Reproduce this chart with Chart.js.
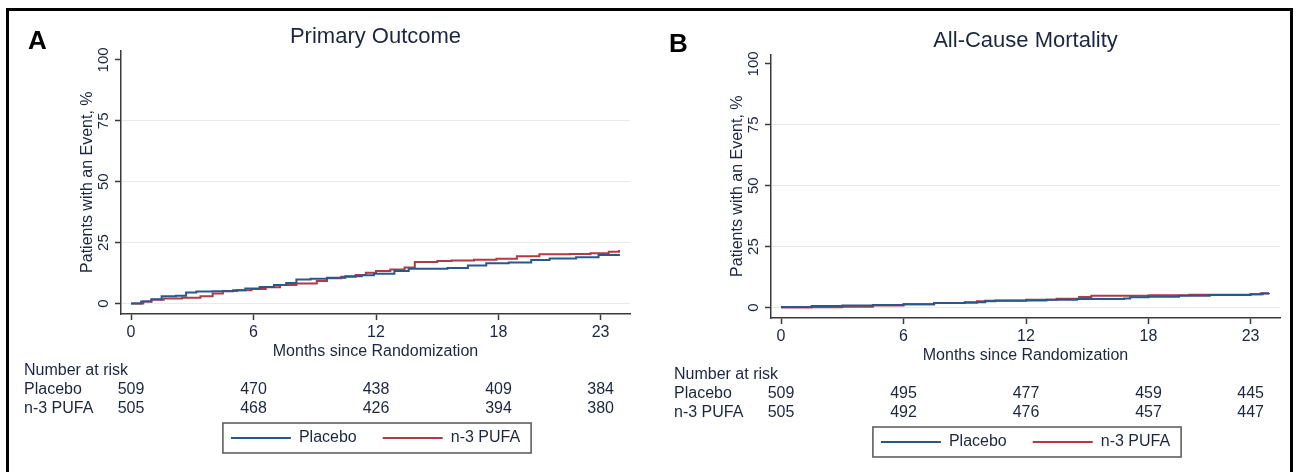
<!DOCTYPE html>
<html>
<head>
<meta charset="utf-8">
<script src="https://cdn.jsdelivr.net/npm/chart.js@4.4.1/dist/chart.umd.min.js"></script>
<style>
body{margin:0;background:#fff;width:1299px;height:472px;overflow:hidden;position:relative;font-family:Arial,"Liberation Sans",sans-serif;}
#frame{position:absolute;left:6px;top:8px;width:1287px;height:520px;border:3px solid #000;box-sizing:border-box;pointer-events:none;}
canvas{position:absolute;}
#chartA{left:0;top:0;}
#chartB{left:650px;top:4px;}
.panel{position:absolute;font-weight:bold;font-size:26px;line-height:26px;color:#000;}
</style>
</head>
<body>
<canvas id="chartA" width="650" height="472"></canvas>
<canvas id="chartB" width="650" height="472"></canvas>
<div class="panel" style="left:28px;top:27px">A</div>
<div class="panel" style="left:669px;top:30px">B</div>
<div id="frame"></div>
<script>
const xTicks=[0,6,12,18,23];
const yTicks=[0,25,50,75,100];
const riskTimes=[0,6,12,18,23];

const monthsPlaceboA=[0,0.5,1.0,1.5,2.2,2.7,3.2,4.0,5.0,5.6,6.3,7.0,7.6,8.1,8.8,9.6,10.5,11.3,11.9,12.9,13.6,15.5,16.5,17.4,18.5,19.6,20.5,21.8,22.9,23.9];
const pctPlaceboA=[0,0.8,1.8,3.0,3.2,4.5,4.9,5.0,5.4,6.2,6.8,7.6,8.4,9.9,10.2,10.6,11.2,11.6,12.2,13.3,14.3,14.6,15.6,16.5,16.8,17.9,18.5,19.0,19.9,20.3];
const monthsPufaA=[0,0.6,1.0,1.6,2.5,3.4,4.0,4.5,5.2,5.9,6.6,7.3,8.1,9.1,9.6,10.3,11.0,11.5,12.0,12.7,13.4,13.9,15.0,15.7,16.8,17.9,18.9,20.0,21.5,22.5,23.4,23.9];
const pctPufaA=[0,0.8,1.5,2.1,2.4,3.0,4.1,5.1,5.4,6.0,6.7,7.6,8.2,9.2,10.4,11.0,11.7,12.6,13.3,14.0,14.8,17.0,17.5,17.7,18.0,18.4,19.4,20.2,20.3,20.6,21.3,22.0];

const monthsPlaceboB=[0,1.5,3.0,4.5,6.0,7.5,9.0,10.0,12.0,13.0,14.5,16.8,17.1,18.0,19.5,21.0,23.0,23.6,23.9];
const pctPlaceboB=[0.2,0.6,0.8,1.0,1.3,1.9,2.2,2.8,2.9,3.2,3.5,3.7,4.2,4.4,4.8,5.1,5.4,5.8,5.8];
const monthsPufaB=[0,1.5,3.0,4.5,6.0,7.5,9.0,9.6,10.5,12.0,13.5,14.6,15.2,18.0,20.0,23.0,23.5,23.9];
const pctPufaB=[0,0.1,0.3,0.8,1.3,1.9,2.0,2.6,2.9,3.2,3.6,4.3,4.8,5.0,5.2,5.4,5.9,6.0];

const riskPlaceboA=[509,470,438,409,384];
const riskPufaA=[505,468,426,394,380];
const riskPlaceboB=[509,495,477,459,445];
const riskPufaB=[505,492,476,457,447];

const fontFamily='Arial, "Liberation Sans", sans-serif';
const textColor='#1c2640';
const axisColor='#3a3a3a';
const gridColor='#e6eaed';
const blue='#28598a';
const red='#b03a48';

Chart.defaults.font.family=fontFamily;

function toPoints(months,pct){
return months.map((m,i)=>({x:m,y:pct[i]}));
}

// number-at-risk rows under the axis + frame round the legend
const riskTable={
id:'riskTable',
afterDraw(chart,args,opts){
const ctx=chart.ctx;
const xs=chart.scales.x;
const base=chart.chartArea.bottom;
ctx.save();
ctx.font='16px '+fontFamily;
ctx.fillStyle=textColor;
ctx.textBaseline='middle';
ctx.textAlign='left';
ctx.fillText('Number at risk',24,base+57);
ctx.fillText('Placebo',24,base+76);
ctx.fillText('n-3 PUFA',24,base+95);
ctx.textAlign='center';
riskTimes.forEach((t,i)=>{
ctx.fillText(String(opts.placebo[i]),xs.getPixelForValue(t),base+76);
ctx.fillText(String(opts.pufa[i]),xs.getPixelForValue(t),base+95);
});
const boxes=chart.legend.legendHitBoxes;
const first=boxes[0],last=boxes[boxes.length-1];
const l=first.left-8,r=last.left+last.width+11;
ctx.strokeStyle='#555';
ctx.lineWidth=1.5;
ctx.strokeRect(l,first.top-7,r-l,first.height+14);
ctx.restore();
}
};

function makeChart(id,title,placebo,pufa,riskPlacebo,riskPufa){
return new Chart(document.getElementById(id),{
type:'line',
data:{
datasets:[
{label:'Placebo',data:placebo,borderColor:blue,backgroundColor:blue,borderWidth:2,stepped:true,pointRadius:0,fill:false},
{label:'n-3 PUFA',data:pufa,borderColor:red,backgroundColor:red,borderWidth:2,stepped:true,pointRadius:0,fill:false}
]
},
options:{
responsive:false,
animation:false,
events:[],
layout:{padding:{left:72,right:20,top:0,bottom:16}},
scales:{
x:{
type:'linear',min:-0.49,max:24.44,
afterBuildTicks:s=>{s.ticks=xTicks.map(v=>({value:v}));},
afterFit:s=>{s.height=90;},
grid:{drawOnChartArea:false,tickLength:6,tickColor:axisColor,tickWidth:1.5},
border:{color:axisColor,width:1.5},
ticks:{padding:3,color:textColor,font:{size:16},maxRotation:0,autoSkip:false,callback:v=>String(v)},
title:{display:true,text:'Months since Randomization',color:textColor,font:{size:16},padding:{top:0,bottom:43}}
},
y:{
type:'linear',min:-4.3,max:103.9,
afterBuildTicks:s=>{s.ticks=yTicks.map(v=>({value:v}));},
afterFit:s=>{s.width=49;},
grid:{color:c=>(c.tick&&c.tick.value===100)?'rgba(0,0,0,0)':gridColor,tickLength:6,tickColor:axisColor,tickWidth:1.5},
border:{color:axisColor,width:1.5},
ticks:{minRotation:90,maxRotation:90,crossAlign:'center',padding:-1,color:textColor,font:{size:15},autoSkip:false,callback:v=>String(v)},
title:{display:true,text:'Patients with an Event, %',color:textColor,font:{size:16},padding:{top:6,bottom:0}}
}
},
plugins:{
title:{display:true,text:title,fullSize:false,color:textColor,font:{size:22,weight:'normal'},padding:{top:24,bottom:0}},
legend:{position:'bottom',fullSize:false,labels:{usePointStyle:true,pointStyle:'line',pointStyleWidth:60,padding:26,color:textColor,font:{size:16}}},
tooltip:{enabled:false},
riskTable:{placebo:riskPlacebo,pufa:riskPufa}
}
},
plugins:[riskTable]
});
}

makeChart('chartA','Primary Outcome',toPoints(monthsPlaceboA,pctPlaceboA),toPoints(monthsPufaA,pctPufaA),riskPlaceboA,riskPufaA);
makeChart('chartB','All-Cause Mortality',toPoints(monthsPlaceboB,pctPlaceboB),toPoints(monthsPufaB,pctPufaB),riskPlaceboB,riskPufaB);
</script>
</body>
</html>
